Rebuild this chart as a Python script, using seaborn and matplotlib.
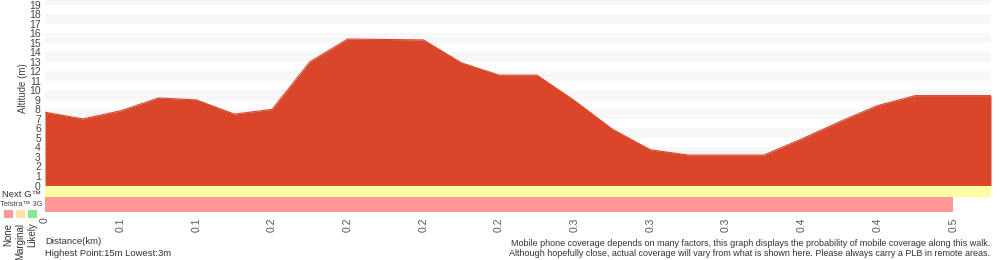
import pandas as pd
import seaborn as sns
import matplotlib.pyplot as plt
from matplotlib.patches import Rectangle

# altitude profile (m), one value per sample point along the walk
altitude = [7.7, 7.0, 7.85, 9.2, 9.0, 7.5, 8.0, 13.0, 15.4, 15.35, 15.3, 12.9, 11.6,
            11.6, 8.9, 5.9, 3.75, 3.2, 3.2, 3.2, 4.9, 6.7, 8.4, 9.45, 9.45, 9.45]
# distance labels shown at every second sample
dist_labels = ["0", "0.1", "0.1", "0.2", "0.2", "0.2", "0.2", "0.3", "0.3", "0.3", "0.4", "0.4", "0.5"]
# coverage bands: network name, last sample index covered
networks = ["Next G™", "Telstra™ 3G"]
coverage_end = [25, 24]
band_colors = ["#ffffa3", "#ff9999"]
legend_names = ["None", "Marginal", "Likely"]
legend_colors = ["#ff9999", "#ffe0a6", "#85e893"]

df = pd.DataFrame({"idx": range(len(altitude)), "alt": altitude})

sns.set_style("white")
plt.rcParams["font.family"] = ["Liberation Sans", "DejaVu Sans"]
fig = plt.figure(figsize=(10, 2.6), dpi=100)
H = 260.0

# main altitude axes
ax = fig.add_axes([0.045, 1 - 185.5 / H, 0.946, 185.5 / H])
for k in range(1, 20, 2):
    ax.axhspan(k, k + 1, color="#f7f7f7", lw=0, zorder=0)
sns.lineplot(data=df, x="idx", y="alt", ax=ax, color="#d9462a", lw=0.8, zorder=3)
ax.fill_between(df["idx"], df["alt"], color="#d9462a", lw=0, zorder=2)
ax.set_xlim(0, len(altitude) - 1)
ax.set_ylim(0, 19.5)
ax.set_xticks([])
ax.set_yticks(range(0, 20))
ax.tick_params(axis="y", length=0, pad=3, labelsize=7.5, labelcolor="#444444")
ax.set_xlabel("")
ax.set_ylabel("")
for s in ax.spines.values():
    s.set_visible(False)
fig.text(22.5 / 1000, 1 - 88 / H, "Altitude (m)", rotation=90, ha="center", va="center",
         fontsize=7, color="#444444")

# coverage band axes
cax = fig.add_axes([0.045, 1 - 212 / H, 0.946, 26.5 / H])
cax.barh([5.75, 19.25], coverage_end, height=[11.5, 15], left=0, color=band_colors, lw=0)
cax.set_xlim(0, len(altitude) - 1)
cax.set_ylim(26.5, 0)
cax.set_yticks([])
cax.set_xticks(range(0, len(altitude) - 1, 2))
cax.set_xticklabels(dist_labels, rotation=90, fontsize=7.5, color="#555555")
cax.tick_params(axis="x", length=0, pad=4)
for s in cax.spines.values():
    s.set_visible(False)

# left legend
fig.text(2 / 1000, 1 - 194.5 / H, networks[0], ha="left", va="center", fontsize=6.8, color="#333333")
fig.text(21 / 1000, 1 - 204.5 / H, networks[1], ha="center", va="center", fontsize=5.5, color="#444444")
for i, (name, c) in enumerate(zip(legend_names, legend_colors)):
    x0 = 4 + i * 12
    fig.patches.append(Rectangle((x0 / 1000, 1 - 218 / H), 9 / 1000, 8 / H,
                                 transform=fig.transFigure, color=c, lw=0))
    fig.text((x0 + 4.5) / 1000, 1 - 222.5 / H, name, rotation=90, ha="center", va="top",
             fontsize=7, color="#333333")

# footer text
fig.text(45 / 1000, 1 - 242 / H, "Distance(km)", ha="left", va="center", fontsize=6.8, color="#333333")
fig.text(45 / 1000, 1 - 253 / H, "Highest Point:15m Lowest:3m", ha="left", va="center",
         fontsize=6.8, color="#333333")
fig.text(990 / 1000, 1 - 243 / H,
         "Mobile phone coverage depends on many factors, this graph displays the probability of mobile coverage along this walk.",
         ha="right", va="center", fontsize=6.5, color="#333333")
fig.text(990 / 1000, 1 - 254 / H,
         "Although hopefully close, actual coverage will vary from what is shown here. Please always carry a PLB in remote areas.",
         ha="right", va="center", fontsize=6.5, color="#333333")

fig.savefig("out.png", dpi=100)
